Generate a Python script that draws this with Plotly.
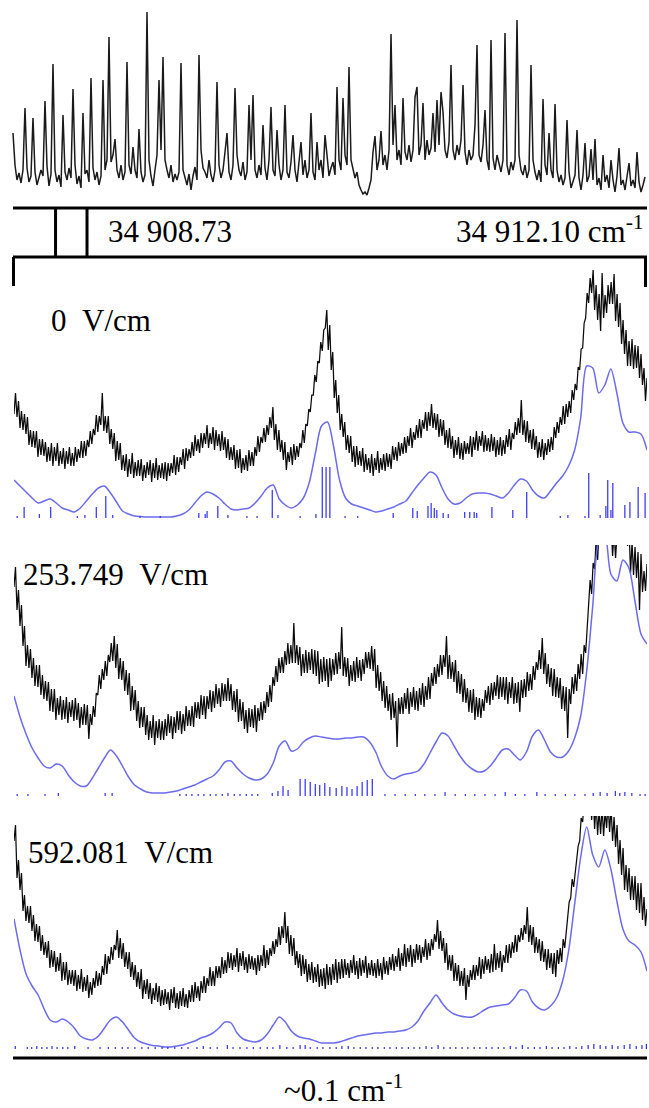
import numpy as np
import plotly.graph_objects as go

W, H = 649, 1108

# ---------------- survey scan (cm-1) ----------------
SURVEY_START, SURVEY_END = 34908.283, 34912.10
SURVEY_RANGE = [34908.277, 34912.112]
ZOOM_WINDOW = [34908.54, 34908.73]

survey_intensity = [
    67, 35, 20, 27, 17, 30, 92, 32, 18, 24,
    82, 28, 15, 22, 30, 24, 99, 34, 14, 26,
    136, 30, 18, 25, 13, 85, 28, 20, 32, 22,
    111, 35, 16, 24, 12, 87, 26, 30, 18, 122,
    32, 20, 28, 15, 24, 120, 30, 40, 163, 38,
    45, 61, 30, 22, 35, 20, 28, 138, 35, 26,
    53, 30, 22, 71, 28, 18, 25, 188, 40, 24,
    14, 30, 45, 120, 50, 143, 40, 30, 22, 35,
    18, 26, 20, 28, 137, 30, 22, 15, 26, 10,
    24, 33, 20, 145, 50, 32, 28, 22, 40, 25,
    18, 30, 118, 35, 22, 30, 48, 67, 28, 20,
    35, 112, 45, 30, 24, 38, 20, 28, 95, 40,
    105, 30, 22, 35, 25, 75, 32, 20, 40, 93,
    30, 24, 70, 35, 20, 30, 95, 28, 22, 38,
    65, 30, 18, 35, 58, 25, 40, 22, 30, 87,
    28, 20, 58, 30, 40, 22, 65, 45, 24, 32,
    38, 25, 113, 40, 30, 102, 45, 35, 133, 40,
    30, 22, 28, 15, 10, 6, 8, 5, 12, 20,
    48, 64, 30, 40, 69, 35, 45, 30, 50, 166,
    55, 95, 40, 50, 35, 102, 48, 40, 55, 38,
    50, 103, 113, 45, 55, 97, 40, 60, 45, 52,
    87, 48, 100, 55, 108, 88, 50, 42, 58, 135,
    50, 40, 55, 45, 60, 115, 48, 35, 50, 40,
    45, 75, 155, 45, 38, 55, 90, 40, 30, 160,
    42, 30, 45, 35, 28, 40, 167, 35, 25, 38,
    30, 40, 180, 45, 30, 25, 35, 22, 30, 135,
    40, 28, 20, 30, 18, 101, 35, 25, 67, 30,
    22, 96, 30, 18, 25, 15, 22, 80, 28, 12,
    20, 25, 70, 22, 10, 25, 57, 18, 24, 51,
    20, 61, 15, 22, 10, 45, 18, 25, 12, 40,
    20, 8, 24, 52, 15, 20, 10, 22, 37, 14,
    20, 12, 48, 18, 8, 15, 23,
]

# ---------------- Stark scans over the ~0.1 cm-1 window (mK offset) ----------------
# Observed traces are stored as min/max pairs per sampling bin.
FIELDS = ["0", "253.749", "592.081"]

obs_lo_0 = [
    104, 101, 90, 88, 84, 73, 71, 70, 61, 63,
    62, 56, 57, 52, 57, 52, 54, 49, 54, 52,
    52, 56, 60, 60, 62, 71, 74, 83, 86, 93,
    87, 85, 74, 69, 57, 58, 48, 47, 41, 44,
    40, 42, 42, 37, 40, 43, 36, 40, 38, 40,
    39, 37, 42, 45, 43, 46, 53, 49, 57, 60,
    62, 67, 65, 70, 74, 70, 74, 68, 72, 67,
    68, 60, 58, 58, 49, 50, 45, 48, 47, 52,
    52, 62, 66, 75, 76, 83, 90, 78, 68, 66,
    58, 48, 56, 53, 58, 61, 70, 75, 92, 106,
    123, 136, 155, 167, 190, 168, 148, 120, 105, 88,
    81, 68, 65, 56, 51, 53, 52, 46, 48, 45,
    42, 48, 45, 48, 47, 51, 49, 58, 57, 62,
    64, 65, 72, 70, 78, 80, 80, 89, 87, 92,
    90, 88, 81, 82, 73, 70, 69, 60, 63, 59,
    58, 64, 64, 61, 68, 67, 72, 66, 67, 66,
    67, 61, 63, 62, 64, 71, 68, 79, 83, 85,
    83, 76, 75, 69, 68, 60, 61, 58, 63, 66,
    68, 80, 85, 93, 94, 101, 105, 118, 128, 148,
    170, 200, 215, 225, 208, 198, 187, 200, 205, 214,
    214, 197, 191, 174, 164, 152, 152, 149, 150, 140,
    133, 117,
]
obs_hi_0 = [
    125, 117, 107, 104, 101, 88, 87, 87, 79, 79,
    76, 71, 75, 71, 75, 67, 70, 67, 71, 65,
    71, 69, 77, 77, 78, 87, 89, 103, 102, 125,
    102, 102, 89, 85, 77, 75, 63, 64, 59, 65,
    56, 58, 59, 53, 56, 58, 55, 60, 53, 55,
    56, 55, 55, 63, 61, 61, 69, 70, 69, 76,
    83, 79, 85, 85, 93, 85, 91, 88, 84, 87,
    81, 79, 71, 73, 68, 69, 60, 63, 68, 66,
    71, 82, 81, 90, 93, 101, 111, 94, 88, 78,
    76, 66, 71, 74, 72, 75, 88, 94, 109, 123,
    143, 157, 176, 188, 208, 193, 166, 138, 123, 104,
    96, 83, 82, 72, 72, 67, 70, 64, 60, 64,
    60, 67, 60, 64, 65, 64, 72, 71, 76, 75,
    81, 82, 90, 86, 93, 99, 98, 106, 106, 114,
    105, 104, 99, 98, 88, 90, 82, 78, 81, 75,
    77, 75, 82, 81, 87, 82, 87, 83, 80, 84,
    81, 78, 81, 78, 83, 89, 85, 96, 100, 118,
    98, 97, 88, 89, 82, 76, 79, 75, 79, 81,
    91, 96, 101, 112, 114, 117, 128, 134, 151, 169,
    195, 225, 240, 248, 233, 224, 245, 223, 233, 236,
    244, 224, 215, 198, 188, 177, 179, 173, 172, 164,
    150, 140,
]
obs_lo_1 = [
    209, 186, 170, 150, 130, 128, 118, 110, 109, 101,
    97, 95, 85, 84, 76, 81, 76, 77, 73, 79,
    75, 76, 68, 71, 71, 57, 71, 79, 101, 107,
    116, 120, 134, 135, 128, 117, 116, 105, 101, 85,
    86, 75, 68, 69, 61, 56, 58, 51, 58, 56,
    56, 60, 63, 57, 63, 66, 62, 65, 70, 70,
    69, 78, 77, 81, 77, 87, 84, 88, 92, 89,
    95, 95, 95, 86, 84, 74, 75, 67, 63, 69,
    68, 64, 75, 76, 83, 89, 94, 110, 114, 123,
    123, 131, 132, 133, 133, 131, 120, 123, 123, 126,
    122, 120, 112, 114, 115, 109, 115, 121, 122, 127,
    120, 119, 110, 115, 114, 118, 115, 122, 128, 127,
    125, 108, 105, 95, 88, 85, 76, 78, 49, 82,
    82, 87, 82, 89, 86, 85, 91, 89, 96, 97,
    110, 112, 119, 121, 129, 117, 117, 114, 103, 102,
    94, 93, 84, 83, 76, 79, 78, 85, 93, 91,
    96, 100, 97, 99, 96, 92, 98, 92, 93, 84,
    98, 99, 105, 106, 116, 126, 127, 122, 112, 109,
    100, 99, 98, 87, 85, 58, 92, 102, 105, 117,
    122, 143, 187, 202, 227, 236, 255, 262, 258, 253,
    240, 238, 255, 258, 254, 250, 223, 221, 218, 186,
    204, 205,
]
obs_hi_1 = [
    229, 206, 191, 170, 151, 147, 138, 131, 131, 121,
    115, 114, 107, 107, 98, 100, 96, 99, 94, 96,
    98, 93, 89, 92, 91, 82, 90, 103, 121, 127,
    135, 141, 153, 160, 152, 138, 135, 126, 123, 110,
    106, 95, 89, 89, 81, 75, 81, 75, 77, 75,
    77, 82, 80, 79, 85, 85, 82, 90, 86, 90,
    94, 94, 101, 100, 100, 106, 105, 112, 108, 113,
    112, 118, 112, 105, 107, 97, 94, 86, 88, 87,
    91, 88, 94, 95, 104, 111, 119, 130, 138, 139,
    145, 153, 151, 173, 151, 149, 142, 146, 144, 147,
    146, 145, 137, 139, 137, 138, 137, 143, 144, 169,
    139, 138, 131, 135, 139, 136, 137, 144, 144, 150,
    147, 131, 124, 115, 110, 102, 103, 95, 98, 99,
    103, 108, 104, 109, 105, 108, 113, 110, 119, 123,
    129, 132, 141, 141, 160, 141, 134, 136, 125, 122,
    117, 108, 106, 107, 99, 98, 97, 106, 110, 113,
    114, 121, 119, 119, 119, 114, 119, 113, 114, 116,
    117, 124, 122, 130, 134, 146, 158, 143, 132, 128,
    127, 119, 118, 110, 109, 107, 119, 122, 132, 142,
    151, 172, 216, 233, 256, 266, 280, 284, 283, 271,
    264, 263, 267, 278, 271, 268, 254, 249, 244, 242,
    225, 232,
]
obs_lo_2 = [
    208, 171, 159, 138, 128, 126, 118, 108, 107, 98,
    94, 91, 81, 82, 77, 78, 68, 69, 64, 65,
    63, 58, 60, 57, 58, 51, 54, 61, 63, 64,
    74, 75, 85, 89, 99, 91, 90, 82, 80, 72,
    69, 62, 60, 50, 55, 50, 45, 49, 47, 43,
    44, 45, 39, 46, 41, 40, 43, 42, 41, 47,
    47, 51, 48, 56, 56, 63, 63, 63, 71, 71,
    75, 76, 81, 79, 82, 77, 83, 79, 76, 80,
    79, 74, 78, 83, 81, 84, 93, 95, 102, 104,
    111, 106, 95, 93, 84, 81, 73, 75, 67, 69,
    66, 67, 62, 63, 60, 64, 64, 69, 66, 70,
    71, 74, 71, 76, 74, 70, 73, 76, 71, 74,
    73, 71, 73, 69, 75, 74, 79, 78, 82, 78,
    83, 82, 87, 82, 86, 89, 86, 92, 89, 93,
    99, 107, 100, 98, 86, 79, 78, 68, 68, 63,
    63, 49, 62, 69, 69, 73, 70, 75, 79, 76,
    77, 79, 81, 77, 86, 86, 91, 96, 97, 107,
    109, 115, 107, 104, 96, 96, 88, 87, 79, 81,
    75, 72, 85, 87, 101, 127, 151, 162, 187, 208,
    227, 235, 240, 229, 220, 214, 215, 213, 221, 217,
    208, 202, 185, 174, 159, 157, 149, 149, 139, 136,
    129, 123,
]
obs_hi_2 = [
    224, 189, 176, 154, 143, 143, 134, 125, 123, 114,
    107, 108, 99, 98, 92, 96, 87, 87, 79, 79,
    79, 74, 80, 72, 74, 67, 71, 78, 76, 83,
    95, 93, 102, 104, 119, 111, 106, 97, 97, 87,
    84, 77, 80, 69, 70, 66, 61, 66, 63, 59,
    60, 57, 60, 62, 56, 58, 61, 55, 59, 64,
    67, 63, 68, 73, 71, 82, 78, 83, 83, 92,
    89, 97, 96, 94, 101, 96, 98, 92, 95, 93,
    91, 94, 94, 104, 99, 101, 108, 110, 122, 123,
    137, 123, 114, 111, 98, 95, 94, 90, 85, 87,
    82, 85, 80, 81, 85, 82, 85, 90, 87, 90,
    90, 86, 89, 94, 88, 91, 89, 93, 86, 89,
    86, 90, 86, 92, 88, 92, 95, 93, 101, 96,
    105, 101, 104, 100, 105, 104, 102, 110, 106, 110,
    115, 129, 118, 111, 106, 94, 94, 86, 84, 78,
    81, 74, 79, 84, 84, 92, 90, 93, 90, 95,
    105, 96, 98, 94, 104, 105, 107, 114, 114, 121,
    124, 142, 124, 122, 112, 110, 108, 100, 100, 96,
    96, 99, 101, 110, 117, 147, 170, 178, 203, 231,
    249, 263, 263, 254, 246, 239, 242, 238, 246, 242,
    232, 224, 209, 201, 184, 181, 173, 173, 166, 166,
    152, 140,
]

sim_0 = [
    38, 32, 26, 20, 15, 17, 19, 15, 10, 8,
    6, 10, 17, 24, 30, 32, 25, 16, 7, 4,
    2, 1.5, 1, 1, 1, 1, 1, 2, 4, 8,
    15, 22, 26, 24, 20, 14, 9, 8, 9, 10,
    15, 22, 30, 33, 19, 13, 10, 13, 20, 36,
    65, 92, 96, 72, 38, 20, 14, 12, 10, 8,
    6, 7, 9, 11, 14, 17, 25, 33, 40, 46,
    43, 30, 19, 14, 15, 20, 24, 25, 25, 24,
    22, 20, 25, 33, 39, 37, 28, 22, 20, 27,
    35, 42, 52, 68, 100, 152, 150, 125, 133, 149,
    125, 95, 86, 86, 84, 68,
]
sim_1 = [
    100, 79, 62, 48, 38, 30, 28, 32, 30, 21,
    14, 10, 10, 18, 28, 38, 46, 40, 30, 19,
    11, 7, 4, 3, 3, 3, 4, 5, 7, 9,
    11, 14, 17, 20, 26, 34, 35, 28, 22, 18,
    16, 17, 22, 33, 50, 55, 45, 47, 54, 58,
    60, 59, 58, 57, 57, 58, 58, 59, 59, 54,
    44, 29, 20, 17, 20, 22, 23, 25, 32, 43,
    54, 63, 60, 50, 40, 32, 27, 24, 25, 30,
    38, 46, 47, 41, 36, 44, 60, 66, 56, 44,
    39, 39, 45, 58, 80, 125, 190, 255, 262, 222,
    215, 236, 228, 195, 162, 152,
]
sim_2 = [
    130, 99, 75, 63, 54, 40, 29, 27, 30, 27,
    21, 13, 10, 9, 13, 21, 29, 32, 27, 19,
    11, 7, 5, 3.5, 3, 2, 2, 3, 4, 6,
    8, 11, 13, 16, 21, 27, 26, 16, 10, 8,
    7, 9, 15, 24, 32, 27, 18, 13, 11, 10,
    8, 6, 6, 6, 7, 9, 11, 13, 14, 15,
    16, 16, 17, 17, 18, 19, 22, 28, 38, 46,
    54, 46, 39, 35, 33, 32, 32, 35, 39, 42,
    43, 44, 45, 51, 59, 58, 47, 41, 39, 43,
    51, 68, 98, 145, 192, 222, 194, 182, 199, 180,
    148, 120, 108, 104, 97, 78,
]

stick_pos_0 = [0.5, 1.6, 4.0, 5.8, 10.0, 11.2, 13.0, 14.5, 15.6, 19.9,
               23.1, 29.2, 30.2, 30.5, 32.2, 33.8, 36.8, 38.4, 40.8, 41.7,
               45.2, 47.7, 48.7, 49.3, 49.9, 52.3, 54.3, 59.9, 63.0, 63.7,
               65.4, 65.9, 66.4, 66.8, 67.8, 68.6, 71.2, 72.0, 72.7, 73.1,
               75.5, 78.8, 81.0, 86.3, 87.5, 90.2, 90.8, 92.6, 93.5, 93.8,
               94.3, 94.6, 96.5, 97.3, 98.6, 99.7]
stick_h_0 = [2, 11, 4, 11, 2, 3, 11, 22, 3, 2,
             2, 5, 4, 7, 12, 3, 2, 2, 28, 3,
             2, 4, 51, 51, 51, 2, 2, 5, 10, 7,
             12, 15, 10, 8, 5, 4, 6, 6, 6, 5,
             11, 8, 26, 2, 3, 2, 45, 3, 12, 38,
             8, 35, 13, 16, 31, 25]

stick_pos_1 = [0.5, 2.2, 4.9, 7.0, 14.4, 15.5, 26.2, 27.2, 28.1, 29.1,
               30.0, 31.0, 31.9, 32.9, 33.8, 34.8, 35.7, 36.7, 37.6, 38.5,
               40.8, 41.7, 42.5, 43.3, 45.2, 46.0, 46.8, 47.6, 48.3, 49.1,
               49.9, 50.9, 51.8, 52.6, 53.4, 54.2, 55.0, 55.8, 56.6, 58.6,
               60.2, 61.8, 63.4, 64.9, 66.5, 68.1, 69.7, 71.3, 72.8, 74.4,
               76.0, 77.6, 79.2, 80.7, 82.6, 83.9, 85.5, 87.1, 88.6, 90.2,
               91.5, 92.6, 93.7, 95.0, 95.7, 96.5, 97.6, 98.9, 99.7]
stick_h_1 = [2, 2, 2, 3, 3, 3, 2, 2, 2, 2,
             2, 2, 2, 2, 3, 2, 2, 2, 2, 2,
             3, 5, 10, 6, 17, 17, 14, 12, 11, 13,
             9, 8, 10, 9, 7, 10, 14, 16, 17, 2,
             2, 2, 2, 2, 2, 4, 2, 2, 2, 2,
             2, 4, 2, 2, 4, 2, 2, 2, 2, 2,
             3, 4, 3, 5, 3, 4, 3, 2, 2]

stick_pos_2 = [0.2, 2.1, 2.8, 3.6, 4.4, 5.2, 6.0, 6.8, 7.7, 8.5,
               9.6, 11.7, 13.6, 14.9, 16.0, 17.1, 18.0, 19.1, 20.2, 21.2,
               22.3, 23.4, 24.3, 25.4, 26.5, 27.5, 28.9, 29.9, 31.0, 32.1,
               33.7, 34.6, 35.7, 36.8, 37.8, 38.9, 40.0, 40.9, 42.0, 43.1,
               44.1, 45.2, 46.0, 46.8, 47.9, 48.8,
               49.9, 50.9, 51.8, 52.8, 53.7, 54.7, 55.6, 56.6, 57.5, 58.5,
               59.4, 60.4, 61.3, 62.3, 63.2, 64.1, 65.1, 66.0, 67.0, 67.9,
               68.9, 69.8, 70.8, 71.7, 72.7, 73.6, 74.6, 75.5, 76.5, 77.4,
               78.4, 79.3, 80.3, 81.2, 82.2, 83.1, 84.1, 85.0, 86.0, 86.9,
               87.8, 88.8, 89.7, 90.7, 91.6, 92.6, 93.5, 94.5, 95.4, 96.4,
               97.3, 98.3, 99.2, 99.9]
stick_h_2 = [3, 2, 2, 3, 2, 2, 3, 2, 2, 2,
             3, 2, 2, 2, 2, 2, 2, 2, 2, 2,
             2, 2, 2, 2, 2, 2, 2, 3, 2, 2,
             4, 2, 2, 2, 2, 2, 2, 2, 4, 2,
             2, 4, 4, 2, 2, 2,
             2, 2, 3, 3, 2, 2, 2, 2, 2, 2,
             2, 2, 2, 2, 2, 2, 3, 2, 4, 2,
             2, 2, 2, 2, 2, 2, 2, 2, 2, 2,
             3, 2, 4, 2, 2, 2, 3, 2, 2, 2,
             3, 2, 3, 4, 5, 4, 3, 4, 3, 4,
             5, 3, 4, 5]

observed = [(obs_lo_0, obs_hi_0), (obs_lo_1, obs_hi_1), (obs_lo_2, obs_hi_2)]
simulated = [sim_0, sim_1, sim_2]
sticks = [(stick_pos_0, stick_h_0), (stick_pos_1, stick_h_1), (stick_pos_2, stick_h_2)]

# ---------------- layout geometry (pixels) ----------------
PLOT_LEFT, PLOT_RIGHT = 14, 647
SURVEY_BOX = (0, 200)                      # top / bottom px
PANEL_BOX = [(268, 518), (545, 796), (816, 1049)]
PANEL_YMAX = [250, 251, 233]

BLACK = "#0a0a0a"
SIM_BLUE = "#6b6bf0"
STICK_BLUE = "#2e2ef0"
FONT = dict(family="Liberation Serif, Times New Roman, serif", size=31, color="black")


def ydom(top, bottom):
    return [1 - bottom / H, 1 - top / H]


def py(v):
    return 1 - v / H


def px(v):
    return v / W


def minmax_series(lo, hi):
    """Unpack a min/max-decimated record into one alternating polyline."""
    y = np.empty(2 * len(lo))
    y[0::2] = lo
    y[1::2] = hi
    x = np.linspace(0, 100, len(y))
    return x, y


fig = go.Figure()

survey_x = np.linspace(SURVEY_START, SURVEY_END, len(survey_intensity))
fig.add_trace(go.Scatter(x=survey_x, y=survey_intensity, mode="lines",
                         line=dict(color="#1a1a1a", width=1.5),
                         xaxis="x", yaxis="y", hoverinfo="skip"))

layout_axes = dict(
    xaxis=dict(domain=[12 / W, 647 / W], range=SURVEY_RANGE, visible=False),
    yaxis=dict(domain=ydom(*SURVEY_BOX), range=[0, 200], visible=False),
)

for i in range(3):
    ax = str(i + 2)
    lo, hi = observed[i]
    sim = simulated[i]
    spos, sh = sticks[i]
    ox, oy = minmax_series(lo, hi)
    fig.add_trace(go.Scatter(x=ox, y=oy, mode="lines",
                             line=dict(color=BLACK, width=1.25),
                             xaxis="x" + ax, yaxis="y" + ax, hoverinfo="skip"))
    fig.add_trace(go.Scatter(x=np.linspace(0, 100, len(sim)), y=sim, mode="lines",
                             line=dict(color=SIM_BLUE, width=1.5, shape="spline", smoothing=0.8),
                             xaxis="x" + ax, yaxis="y" + ax, hoverinfo="skip"))
    sx, sy = [], []
    for p, h in zip(spos, sh):
        sx += [p, p, None]
        sy += [0, h, None]
    fig.add_trace(go.Scatter(x=sx, y=sy, mode="lines",
                             line=dict(color=STICK_BLUE, width=1.2),
                             xaxis="x" + ax, yaxis="y" + ax, hoverinfo="skip"))
    layout_axes["xaxis" + ax] = dict(domain=[PLOT_LEFT / W, PLOT_RIGHT / W], range=[0, 100],
                                     visible=False)
    layout_axes["yaxis" + ax] = dict(domain=ydom(*PANEL_BOX[i]), range=[0, PANEL_YMAX[i]],
                                     visible=False)

line_style = dict(color="black", width=3)
shapes = [
    # frequency axis of the survey scan
    dict(type="line", xref="paper", yref="paper", x0=px(13), x1=px(647), y0=py(208), y1=py(208), line=line_style),
    # zoom window markers
    dict(type="line", xref="x", yref="paper", x0=ZOOM_WINDOW[0], x1=ZOOM_WINDOW[0], y0=py(208), y1=py(257), line=line_style),
    dict(type="line", xref="x", yref="paper", x0=ZOOM_WINDOW[1], x1=ZOOM_WINDOW[1], y0=py(208), y1=py(257), line=line_style),
    # bracket spanning the expanded scans
    dict(type="line", xref="paper", yref="paper", x0=px(13), x1=px(647), y0=py(257), y1=py(257), line=line_style),
    dict(type="line", xref="paper", yref="paper", x0=px(13.5), x1=px(13.5), y0=py(257), y1=py(286), line=line_style),
    dict(type="line", xref="paper", yref="paper", x0=px(645.5), x1=px(645.5), y0=py(257), y1=py(287), line=line_style),
    # bottom scale bar
    dict(type="line", xref="paper", yref="paper", x0=px(13), x1=px(647), y0=py(1058), y1=py(1058), line=line_style),
]

annotations = [
    dict(text="34 908.73", xref="x", yref="paper", x=ZOOM_WINDOW[1], xshift=20, y=py(232),
         xanchor="left", yanchor="middle", showarrow=False, font=FONT, borderpad=0),
    dict(text="34 912.10 cm<sup>-1</sup>", xref="x", yref="paper", x=SURVEY_END, y=py(229),
         xanchor="right", yanchor="middle", showarrow=False, font=FONT, borderpad=0),
    dict(text="~0.1 cm<sup>-1</sup>", xref="paper", yref="paper", x=px(343), y=py(1088),
         xanchor="center", yanchor="middle", showarrow=False, font=FONT, borderpad=0),
]
label_pos = [(50, 320), (22, 574), (27, 852)]
for f, (lx, ly) in zip(FIELDS, label_pos):
    annotations.append(dict(text=f + "\u00a0\u00a0V/cm", xref="paper", yref="paper", x=px(lx), y=py(ly),
                            xanchor="left", yanchor="middle", showarrow=False, font=FONT, borderpad=0))

fig.update_layout(
    width=W, height=H,
    margin=dict(l=0, r=0, t=0, b=0),
    paper_bgcolor="white", plot_bgcolor="white",
    showlegend=False,
    shapes=shapes,
    annotations=annotations,
    **layout_axes,
)

fig.write_html("out.html", config={"displayModeBar": False, "staticPlot": True})
